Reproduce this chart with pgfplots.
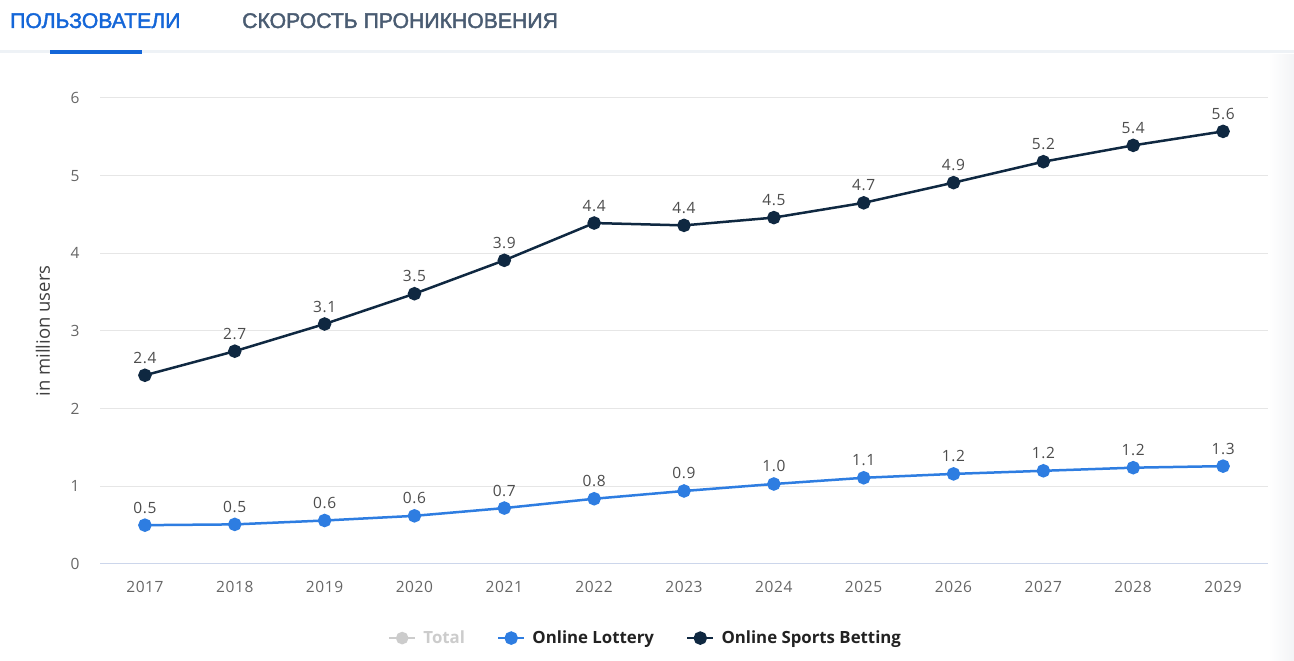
\documentclass[border=0pt]{standalone}
\usepackage{pgfplots}
\usepackage{pgfplotstable}
\pgfplotsset{compat=1.18}
\usepackage{fontspec}
\setmainfont{Open Sans}
\newfontfamily\hdr[FakeBold=2]{Liberation Sans}
\newfontfamily\tickfont[LetterSpace=4]{Open Sans}
\definecolor{navy}{HTML}{0F2841}
\definecolor{blu}{HTML}{2E7DE1}
\definecolor{gridc}{HTML}{E6E6E6}
\definecolor{tickc}{HTML}{666666}
\definecolor{axisc}{HTML}{CCD6EB}
\definecolor{tabblue}{HTML}{1466D8}
\definecolor{tabgray}{HTML}{4A5C72}
\definecolor{tabline}{HTML}{EEF2F6}
\definecolor{totalc}{HTML}{CCCCCC}
\definecolor{legtext}{HTML}{222222}

\pgfplotstableread{
year lot lotl spt sptl
2017 0.50 0.5 2.43 2.4
2018 0.51 0.5 2.74 2.7
2019 0.56 0.6 3.09 3.1
2020 0.62 0.6 3.48 3.5
2021 0.72 0.7 3.91 3.9
2022 0.84 0.8 4.39 4.4
2023 0.94 0.9 4.36 4.4
2024 1.03 1.0 4.46 4.5
2025 1.11 1.1 4.65 4.7
2026 1.16 1.2 4.91 4.9
2027 1.20 1.2 5.18 5.2
2028 1.24 1.2 5.39 5.4
2029 1.26 1.3 5.57 5.6
}\data

\begin{document}
\begin{tikzpicture}
\useasboundingbox (0,0) rectangle (1294pt,661pt);
\fill[white] (0,0) rectangle (1294pt,661pt);
\shade[left color=white, right color={rgb,255:red,243;green,244;blue,246}] (1268pt,0) rectangle (1294pt,606pt);
\fill[tabline] (0,608pt) rectangle (1294pt,611pt);
\fill[tabblue] (50pt,607pt) rectangle (142pt,611pt);
\node[anchor=base west, inner sep=0pt, text=tabblue, font=\hdr\fontsize{21.2}{25}\selectfont] at (10pt,633pt) {ПОЛЬЗОВАТЕЛИ};
\node[anchor=base west, inner sep=0pt, text=tabgray, font=\hdr\fontsize{21.2}{25}\selectfont] at (242pt,633pt) {СКОРОСТЬ ПРОНИКНОВЕНИЯ};
\begin{axis}[
  at={(100pt,97pt)}, anchor=south west,
  scale only axis, width=1168pt, height=466pt,
  xmin=2016.5, xmax=2029.5, ymin=0, ymax=6,
  xtick={2017,...,2029}, ytick={0,...,6},
  axis line style={draw=none},
  major tick length=0pt,
  ymajorgrids, grid style={gridc, line width=1pt},
  /pgf/number format/1000 sep={},
  /pgf/number format/assume math mode=true,
  tick label style={font=\tickfont\fontsize{15.5}{18}\selectfont, text=tickc},
  yticklabel style={xshift=-17pt},
  xticklabel style={yshift=-14pt},
  ylabel={in million users},
  every axis y label/.style={at={(axis description cs:-0.0488,0.5)}, anchor=center, rotate=90},
  ylabel style={font=\fontsize{18.5}{22}\selectfont, text=black!75},
  clip=false,
  legend style={at={(axis description cs:0.467,-0.159)}, anchor=center, draw=none, fill=none,
     font=\bfseries\fontsize{16.8}{20}\selectfont, text=legtext,
     /tikz/every even column/.append style={column sep=30pt}},
  legend columns=3,
  legend cell align=left,
  legend image code/.code={\draw[mark repeat=2,mark phase=2,#1] plot coordinates {(0pt,0pt) (13pt,0pt) (26pt,0pt)}; \path (31pt,0pt);},
  nodes near coords,
  point meta=explicit symbolic,
  every node near coord/.append style={anchor=base, yshift=12pt, font=\tickfont\fontsize{15.5}{18}\selectfont, text=black!70},
]
\draw[axisc, line width=1pt] (axis cs:2016.5,0) -- (axis cs:2029.5,0);
\addlegendimage{totalc, line width=2.5pt, mark=*, mark size=5pt, mark options={solid}}
\addlegendentry[text=totalc]{Total}
\addplot[blu, line width=2.5pt, mark=*, mark size=5.5pt] table[x=year, y=lot, meta=lotl] {\data};
\addlegendentry{Online Lottery}
\addplot[navy, line width=2.5pt, mark=*, mark size=5.5pt] table[x=year, y=spt, meta=sptl] {\data};
\addlegendentry{Online Sports Betting}
\end{axis}
\end{tikzpicture}
\end{document}
